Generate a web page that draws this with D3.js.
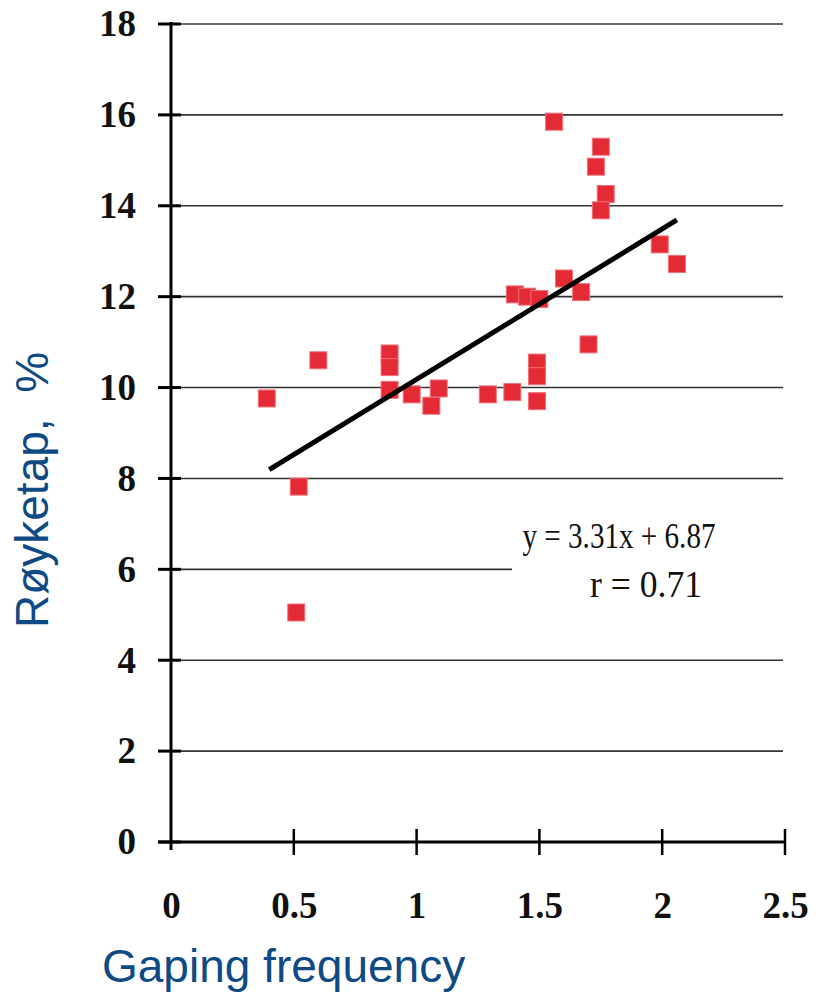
<!DOCTYPE html><html><head><meta charset="UTF-8"><script src="https://d3js.org/d3.v7.min.js"></script><style>
  body { margin: 0; background: #fff; }
  .tick text { font-family: "Liberation Serif", "Times New Roman", serif; font-weight: bold; font-size: 37px; fill: #111; }
  .ttl { font-family: "Liberation Sans", Arial, sans-serif; font-size: 46px; fill: #0e4a84; white-space: pre; }
  .eq { font-family: "Liberation Serif", "Times New Roman", serif; fill: #111; }
</style></head><body><div id="chart"></div><script>
// gaping frequency vs smoke loss
const gaping = [0.39, 0.52, 0.51, 0.60, 0.89, 0.89, 0.89, 0.98, 1.06, 1.09, 1.29, 1.39, 1.40, 1.45, 1.50,
                1.49, 1.49, 1.49, 1.56, 1.60, 1.67, 1.70, 1.75, 1.73, 1.77, 1.75, 1.99, 2.06];
const loss   = [9.76, 7.82, 5.05, 10.6, 10.75, 10.45, 9.95, 9.85, 9.6, 9.98, 9.85, 9.9, 12.05, 12.0, 11.95,
                10.55, 10.25, 9.7, 15.85, 12.4, 12.1, 10.95, 15.3, 14.86, 14.26, 13.9, 13.15, 12.72];
const xTicks = [0, 0.5, 1, 1.5, 2, 2.5];
const yTicks = [0, 2, 4, 6, 8, 10, 12, 14, 16, 18];
const slope = 3.31, intercept = 6.87;
const fitRange = [0.4, 2.06];

const svg = d3.select('#chart').append('svg').attr('width', 816).attr('height', 999);

const x = d3.scaleLinear().domain([0, 2.5]).range([171, 785]);
const y = d3.scaleLinear().domain([0, 18]).range([842, 24]);

// gridlines (the 6 line stops short of the equation)
svg.append('g').selectAll('line').data(yTicks.filter(d => d > 0)).enter().append('line')
  .attr('x1', x(0)).attr('x2', d => d === 6 ? 512 : 783)
  .attr('y1', d => y(d)).attr('y2', d => y(d))
  .attr('stroke', '#333').attr('stroke-width', 1.6);

// y axis
const yAxis = svg.append('g').attr('transform', `translate(${x(0)},0)`)
  .call(d3.axisLeft(y).tickValues(yTicks).tickSize(0).tickPadding(35).tickFormat(d3.format('d')));
yAxis.select('.domain').remove();
svg.append('line').attr('x1', x(0)).attr('x2', x(0)).attr('y1', y(18) - 2).attr('y2', y(0) + 8)
  .attr('stroke', '#000').attr('stroke-width', 3);
svg.append('g').selectAll('line').data(yTicks).enter().append('line')
  .attr('x1', x(0) - 13).attr('x2', x(0) + 10).attr('y1', d => y(d)).attr('y2', d => y(d))
  .attr('stroke', '#000').attr('stroke-width', 3);

// x axis
const xAxis = svg.append('g').attr('transform', `translate(0,${y(0)})`)
  .call(d3.axisBottom(x).tickValues(xTicks).tickSize(0).tickPadding(50).tickFormat(d => d));
xAxis.select('.domain').remove();
svg.append('line').attr('x1', x(0) - 13).attr('x2', x(2.5)).attr('y1', y(0)).attr('y2', y(0))
  .attr('stroke', '#000').attr('stroke-width', 3);
svg.append('g').selectAll('line').data(xTicks.filter(d => d > 0)).enter().append('line')
  .attr('x1', d => x(d)).attr('x2', d => x(d)).attr('y1', y(0) - 13).attr('y2', y(0) + 13)
  .attr('stroke', '#000').attr('stroke-width', 2.5);

// points
const s = 17;
svg.append('g').selectAll('rect').data(gaping.map((g, i) => [g, loss[i]])).enter().append('rect')
  .attr('x', d => x(d[0]) - s / 2).attr('y', d => y(d[1]) - s / 2)
  .attr('width', s).attr('height', s)
  .attr('fill', '#e42a35').attr('stroke', '#f0707a').attr('stroke-width', 1);

// regression line
svg.append('line')
  .attr('x1', x(fitRange[0])).attr('y1', y(slope * fitRange[0] + intercept))
  .attr('x2', x(fitRange[1])).attr('y2', y(slope * fitRange[1] + intercept))
  .attr('stroke', '#000').attr('stroke-width', 5);

svg.append('text').attr('class', 'eq').attr('x', 619).attr('y', 548).attr('text-anchor', 'middle')
  .style('font-size', '35px')
  .attr('textLength', 193).attr('lengthAdjust', 'spacingAndGlyphs').text('y = 3.31x + 6.87');
svg.append('text').attr('class', 'eq').attr('x', 646).attr('y', 597).attr('text-anchor', 'middle')
  .style('font-size', '37px')
  .attr('textLength', 112).attr('lengthAdjust', 'spacingAndGlyphs').text('r = 0.71');

// axis titles
svg.append('text').attr('class', 'ttl').attr('text-anchor', 'middle')
  .attr('transform', 'translate(48,490) rotate(-90)').text('Røyketap,  %');
svg.append('text').attr('class', 'ttl').attr('x', 102).attr('y', 982).text('Gaping frequency');
</script></body></html>
